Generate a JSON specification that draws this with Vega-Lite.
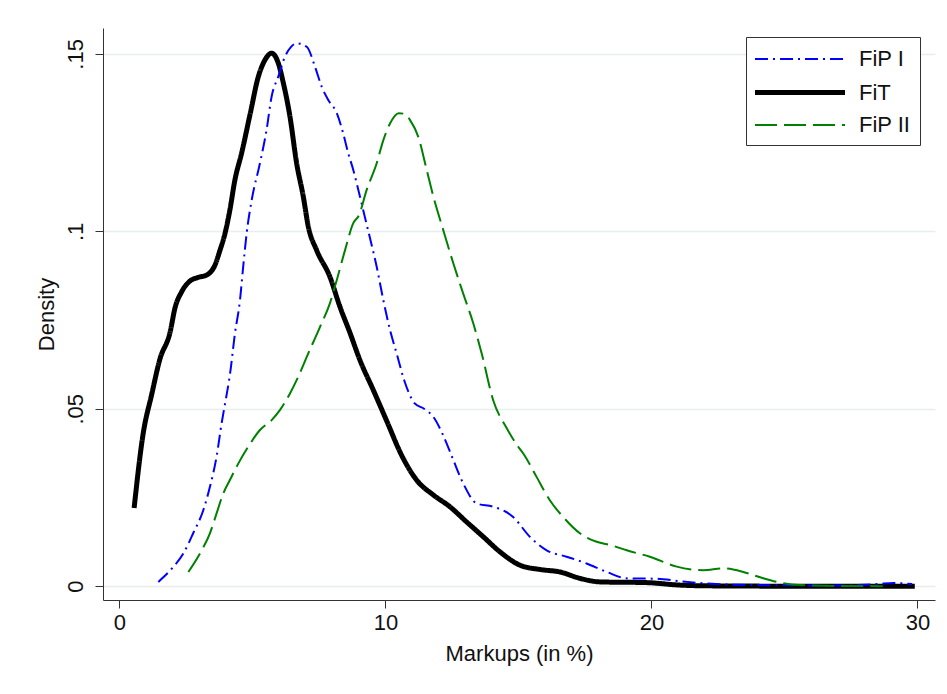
{
  "$schema": "https://vega.github.io/schema/vega-lite/v6.json",
  "width": 832,
  "height": 572,
  "autosize": {"type": "none"},
  "padding": {"left": 103, "top": 28, "right": 12, "bottom": 94},
  "background": "white",
  "config": {
    "font": "Liberation Sans",
    "view": {"stroke": null},
    "axis": {"domainColor": "#333333", "tickColor": "#333333", "labelColor": "#111111", "titleColor": "#111111", "titleFontWeight": "normal"}
  },
  "datasets": {
    "d": [
      {"series": "FiT", "x": 0.55, "y": 0.022},
      {"series": "FiT", "x": 0.89, "y": 0.043},
      {"series": "FiT", "x": 1.21, "y": 0.054},
      {"series": "FiT", "x": 1.52, "y": 0.064},
      {"series": "FiT", "x": 1.9, "y": 0.0715},
      {"series": "FiT", "x": 2.09, "y": 0.0785},
      {"series": "FiT", "x": 2.34, "y": 0.083},
      {"series": "FiT", "x": 2.65, "y": 0.086},
      {"series": "FiT", "x": 2.95, "y": 0.087},
      {"series": "FiT", "x": 3.28, "y": 0.0877},
      {"series": "FiT", "x": 3.59, "y": 0.0905},
      {"series": "FiT", "x": 3.78, "y": 0.0947},
      {"series": "FiT", "x": 3.97, "y": 0.0995},
      {"series": "FiT", "x": 4.15, "y": 0.106},
      {"series": "FiT", "x": 4.34, "y": 0.1145},
      {"series": "FiT", "x": 4.59, "y": 0.122},
      {"series": "FiT", "x": 4.91, "y": 0.133},
      {"series": "FiT", "x": 5.22, "y": 0.1436},
      {"series": "FiT", "x": 5.47, "y": 0.1483},
      {"series": "FiT", "x": 5.72, "y": 0.1502},
      {"series": "FiT", "x": 5.97, "y": 0.1474},
      {"series": "FiT", "x": 6.16, "y": 0.1418},
      {"series": "FiT", "x": 6.41, "y": 0.1323},
      {"series": "FiT", "x": 6.66, "y": 0.1192},
      {"series": "FiT", "x": 6.91, "y": 0.1098},
      {"series": "FiT", "x": 7.1, "y": 0.1013},
      {"series": "FiT", "x": 7.41, "y": 0.0947},
      {"series": "FiT", "x": 7.91, "y": 0.0872},
      {"series": "FiT", "x": 8.29, "y": 0.0787},
      {"series": "FiT", "x": 8.67, "y": 0.0713},
      {"series": "FiT", "x": 9.04, "y": 0.0637},
      {"series": "FiT", "x": 9.54, "y": 0.0553},
      {"series": "FiT", "x": 10.05, "y": 0.0465},
      {"series": "FiT", "x": 10.6, "y": 0.037},
      {"series": "FiT", "x": 11.17, "y": 0.0299},
      {"series": "FiT", "x": 11.8, "y": 0.0257},
      {"series": "FiT", "x": 12.42, "y": 0.0224},
      {"series": "FiT", "x": 13.05, "y": 0.0181},
      {"series": "FiT", "x": 13.68, "y": 0.0139},
      {"series": "FiT", "x": 14.3, "y": 0.0097},
      {"series": "FiT", "x": 15.06, "y": 0.0059},
      {"series": "FiT", "x": 15.81, "y": 0.0047},
      {"series": "FiT", "x": 16.56, "y": 0.004},
      {"series": "FiT", "x": 17.31, "y": 0.0022},
      {"series": "FiT", "x": 18.06, "y": 0.0012},
      {"series": "FiT", "x": 19.82, "y": 0.001},
      {"series": "FiT", "x": 21.07, "y": 0.0003},
      {"series": "FiT", "x": 22.0, "y": 0.0001},
      {"series": "FiT", "x": 25.0, "y": 0.0},
      {"series": "FiT", "x": 29.9, "y": 0.0},

      {"series": "FiP I", "x": 1.46, "y": 0.0012},
      {"series": "FiP I", "x": 2.02, "y": 0.0054},
      {"series": "FiP I", "x": 2.4, "y": 0.0092},
      {"series": "FiP I", "x": 2.77, "y": 0.0149},
      {"series": "FiP I", "x": 3.15, "y": 0.0214},
      {"series": "FiP I", "x": 3.4, "y": 0.028},
      {"series": "FiP I", "x": 3.65, "y": 0.0365},
      {"series": "FiP I", "x": 3.84, "y": 0.0459},
      {"series": "FiP I", "x": 3.97, "y": 0.0515},
      {"series": "FiP I", "x": 4.15, "y": 0.0595},
      {"series": "FiP I", "x": 4.34, "y": 0.0712},
      {"series": "FiP I", "x": 4.53, "y": 0.0806},
      {"series": "FiP I", "x": 4.65, "y": 0.09},
      {"series": "FiP I", "x": 4.78, "y": 0.0994},
      {"series": "FiP I", "x": 4.97, "y": 0.1088},
      {"series": "FiP I", "x": 5.28, "y": 0.1192},
      {"series": "FiP I", "x": 5.53, "y": 0.1286},
      {"series": "FiP I", "x": 5.72, "y": 0.138},
      {"series": "FiP I", "x": 5.97, "y": 0.1436},
      {"series": "FiP I", "x": 6.22, "y": 0.1492},
      {"series": "FiP I", "x": 6.45, "y": 0.152},
      {"series": "FiP I", "x": 6.66, "y": 0.153},
      {"series": "FiP I", "x": 7.04, "y": 0.152},
      {"series": "FiP I", "x": 7.35, "y": 0.1464},
      {"series": "FiP I", "x": 7.6, "y": 0.1408},
      {"series": "FiP I", "x": 7.85, "y": 0.137},
      {"series": "FiP I", "x": 8.17, "y": 0.1333},
      {"series": "FiP I", "x": 8.41, "y": 0.1276},
      {"series": "FiP I", "x": 8.6, "y": 0.122},
      {"series": "FiP I", "x": 8.79, "y": 0.1173},
      {"series": "FiP I", "x": 9.04, "y": 0.1098},
      {"series": "FiP I", "x": 9.29, "y": 0.102},
      {"series": "FiP I", "x": 9.67, "y": 0.09},
      {"series": "FiP I", "x": 9.92, "y": 0.0806},
      {"series": "FiP I", "x": 10.17, "y": 0.0722},
      {"series": "FiP I", "x": 10.42, "y": 0.0656},
      {"series": "FiP I", "x": 10.7, "y": 0.0581},
      {"series": "FiP I", "x": 11.1, "y": 0.0515},
      {"series": "FiP I", "x": 11.45, "y": 0.05},
      {"series": "FiP I", "x": 11.8, "y": 0.0477},
      {"series": "FiP I", "x": 12.17, "y": 0.0425},
      {"series": "FiP I", "x": 12.5, "y": 0.0365},
      {"series": "FiP I", "x": 12.92, "y": 0.029},
      {"series": "FiP I", "x": 13.43, "y": 0.0233},
      {"series": "FiP I", "x": 14.05, "y": 0.0224},
      {"series": "FiP I", "x": 14.8, "y": 0.0195},
      {"series": "FiP I", "x": 15.43, "y": 0.0139},
      {"series": "FiP I", "x": 16.06, "y": 0.0101},
      {"series": "FiP I", "x": 16.81, "y": 0.0083},
      {"series": "FiP I", "x": 17.56, "y": 0.0064},
      {"series": "FiP I", "x": 18.32, "y": 0.004},
      {"series": "FiP I", "x": 19.07, "y": 0.0022},
      {"series": "FiP I", "x": 20.19, "y": 0.0021},
      {"series": "FiP I", "x": 21.07, "y": 0.0014},
      {"series": "FiP I", "x": 22.0, "y": 0.0008},
      {"series": "FiP I", "x": 24.0, "y": 0.0003},
      {"series": "FiP I", "x": 27.0, "y": 0.0002},
      {"series": "FiP I", "x": 28.5, "y": 0.0006},
      {"series": "FiP I", "x": 29.1, "y": 0.0009},
      {"series": "FiP I", "x": 29.8, "y": 0.0006},

      {"series": "FiP II", "x": 2.59, "y": 0.004},
      {"series": "FiP II", "x": 3.09, "y": 0.0101},
      {"series": "FiP II", "x": 3.4, "y": 0.0149},
      {"series": "FiP II", "x": 3.65, "y": 0.0205},
      {"series": "FiP II", "x": 3.9, "y": 0.0261},
      {"series": "FiP II", "x": 4.15, "y": 0.0299},
      {"series": "FiP II", "x": 4.47, "y": 0.0346},
      {"series": "FiP II", "x": 4.84, "y": 0.0393},
      {"series": "FiP II", "x": 5.28, "y": 0.044},
      {"series": "FiP II", "x": 5.72, "y": 0.0468},
      {"series": "FiP II", "x": 6.03, "y": 0.0496},
      {"series": "FiP II", "x": 6.41, "y": 0.0543},
      {"series": "FiP II", "x": 6.72, "y": 0.059},
      {"series": "FiP II", "x": 7.04, "y": 0.0646},
      {"series": "FiP II", "x": 7.54, "y": 0.0731},
      {"series": "FiP II", "x": 7.91, "y": 0.0797},
      {"series": "FiP II", "x": 8.17, "y": 0.0863},
      {"series": "FiP II", "x": 8.48, "y": 0.0947},
      {"series": "FiP II", "x": 8.79, "y": 0.1023},
      {"series": "FiP II", "x": 9.0, "y": 0.1045},
      {"series": "FiP II", "x": 9.29, "y": 0.1116},
      {"series": "FiP II", "x": 9.67, "y": 0.1192},
      {"series": "FiP II", "x": 9.92, "y": 0.1257},
      {"series": "FiP II", "x": 10.17, "y": 0.1304},
      {"series": "FiP II", "x": 10.5, "y": 0.1333},
      {"series": "FiP II", "x": 10.75, "y": 0.133},
      {"series": "FiP II", "x": 10.92, "y": 0.1314},
      {"series": "FiP II", "x": 11.23, "y": 0.1267},
      {"series": "FiP II", "x": 11.55, "y": 0.1173},
      {"series": "FiP II", "x": 11.8, "y": 0.1098},
      {"series": "FiP II", "x": 12.17, "y": 0.1004},
      {"series": "FiP II", "x": 12.55, "y": 0.091},
      {"series": "FiP II", "x": 12.92, "y": 0.0825},
      {"series": "FiP II", "x": 13.3, "y": 0.0741},
      {"series": "FiP II", "x": 13.62, "y": 0.0655},
      {"series": "FiP II", "x": 14.05, "y": 0.0524},
      {"series": "FiP II", "x": 14.56, "y": 0.0445},
      {"series": "FiP II", "x": 14.99, "y": 0.0393},
      {"series": "FiP II", "x": 15.18, "y": 0.0374},
      {"series": "FiP II", "x": 15.68, "y": 0.0308},
      {"series": "FiP II", "x": 16.18, "y": 0.0242},
      {"series": "FiP II", "x": 16.68, "y": 0.0195},
      {"series": "FiP II", "x": 17.31, "y": 0.0149},
      {"series": "FiP II", "x": 17.94, "y": 0.0125},
      {"series": "FiP II", "x": 18.5, "y": 0.0115},
      {"series": "FiP II", "x": 19.07, "y": 0.0101},
      {"series": "FiP II", "x": 19.94, "y": 0.0083},
      {"series": "FiP II", "x": 20.95, "y": 0.0055},
      {"series": "FiP II", "x": 21.95, "y": 0.0045},
      {"series": "FiP II", "x": 22.7, "y": 0.005},
      {"series": "FiP II", "x": 23.45, "y": 0.004},
      {"series": "FiP II", "x": 24.08, "y": 0.0025},
      {"series": "FiP II", "x": 24.71, "y": 0.0012},
      {"series": "FiP II", "x": 25.58, "y": 0.0003},
      {"series": "FiP II", "x": 26.5, "y": 0.0001},
      {"series": "FiP II", "x": 28.7, "y": 0.0}
    ]
  },
  "data": {"name": "d"},
  "mark": {"type": "line", "interpolate": "monotone", "clip": true},
  "encoding": {
    "x": {
      "field": "x", "type": "quantitative",
      "scale": {"domain": [-0.62, 30.66], "nice": false, "zero": false},
      "axis": {
        "values": [0, 10, 20, 30], "grid": false, "tickSize": 8, "labelPadding": 4,
        "labelFontSize": 22, "title": "Markups (in %)", "titleFontSize": 22, "titlePadding": 10
      }
    },
    "y": {
      "field": "y", "type": "quantitative",
      "scale": {"domain": [-0.0039, 0.1573], "nice": false, "zero": false},
      "axis": {
        "values": [0, 0.05, 0.1, 0.15], "grid": true, "gridColor": "#e6eeee", "gridWidth": 1.5,
        "tickSize": 8, "labelPadding": 8, "labelAngle": -90, "labelAlign": "center", "labelBaseline": "bottom",
        "labelFontSize": 22,
        "labelExpr": "datum.value == 0 ? '0' : substring(format(datum.value, '~g'), 1)",
        "title": "Density", "titleFontSize": 22, "titlePadding": 6
      }
    },
    "color": {
      "field": "series", "type": "nominal",
      "scale": {"domain": ["FiP I", "FiT", "FiP II"], "range": ["#0000ff", "#000000", "#008000"]},
      "legend": {
        "title": null, "orient": "none", "legendX": 643, "legendY": 9,
        "padding": 9, "strokeColor": "#333333", "fillColor": "white", "cornerRadius": 0,
        "symbolType": "M-1.208,0H6.29", "symbolSize": 576, "labelFontSize": 22, "labelOffset": 75,
        "rowPadding": 8, "labelColor": "#111111"
      }
    },
    "strokeDash": {
      "field": "series", "type": "nominal",
      "scale": {"domain": ["FiP I", "FiT", "FiP II"], "range": [[13, 5, 2, 5], [1, 0], [22, 7]]}
    },
    "strokeWidth": {
      "field": "series", "type": "ordinal",
      "scale": {"type": "ordinal", "domain": ["FiP I", "FiT", "FiP II"], "range": [2, 5, 2]}
    }
  }
}
